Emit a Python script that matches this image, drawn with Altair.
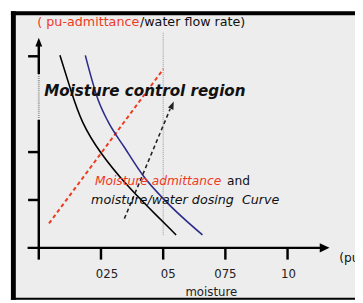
import altair as alt
import pandas as pd

# ---------------- data ----------------
black_x = [0.085, 0.128, 0.171, 0.246, 0.356, 0.434, 0.552]
black_y = [4.02, 3.30, 2.62, 1.98, 1.29, 0.88, 0.27]
blue_x = [0.187, 0.238, 0.277, 0.344, 0.422, 0.513, 0.658]
blue_y = [4.02, 3.10, 2.65, 2.10, 1.49, 0.96, 0.27]
red_x = [0.041, 0.501]
red_y = [0.51, 3.735]
dose_x = [0.344, 0.528]
dose_y = [0.61, 2.90]
xtick_values = [0.25, 0.5, 0.75, 1.0]
xtick_labels = ["025", "05", "075", "10"]
ytick_values = [1, 2, 4]

# ---------------- layout ----------------
W, H = 355, 295
X0PX, XK = 31.5, 254.5   # plot pixel of x=0, pixels per unit
Y0PX, YK = 242.0, 49.0   # plot pixel of y=0, pixels per unit
XMIN, XMAX = -X0PX / XK, (W - X0PX) / XK
YMIN, YMAX = (Y0PX - H) / YK, Y0PX / YK
FONT = "DejaVu Sans"
RED = "#ee3a1e"
BLUE = "#2c2c8c"
GRAY = "#999999"

xs = alt.Scale(domain=[XMIN, XMAX], nice=False, zero=False)
ys = alt.Scale(domain=[YMIN, YMAX], nice=False, zero=False)
X = lambda f="x": alt.X(f"{f}:Q", scale=xs, axis=None)
Y = lambda f="y": alt.Y(f"{f}:Q", scale=ys, axis=None)

one = alt.Data(values=[{}])

# frame
bg = alt.Chart(one).mark_rect(color="#ededed").encode(
    x=alt.value(3), x2=alt.value(W), y=alt.value(0), y2=alt.value(H))
left_border = alt.Chart(one).mark_rule(color="black", strokeWidth=5).encode(
    x=alt.value(5.5), y=alt.value(0), y2=alt.value(H))
top_border = alt.Chart(one).mark_rule(color="black", strokeWidth=4).encode(
    x=alt.value(3), x2=alt.value(W), y=alt.value(2))
bottom_border = alt.Chart(one).mark_rule(color="black", strokeWidth=2).encode(
    x=alt.value(3), x2=alt.value(W), y=alt.value(294))

def seg_df(rows):
    return pd.DataFrame(rows, columns=["x", "y", "x2", "y2"])

axis_black = alt.Chart(seg_df([
    [0, -0.245, 0, 2.67],
    [0, 3.63, 0, 4.22],
    [-0.045, 0, 1.14, 0],
])).mark_rule(color="black", strokeWidth=2.5).encode(
    x=X(), y=Y(), x2="x2:Q", y2="y2:Q")

axis_gray = alt.Chart(seg_df([[0, 2.67, 0, 3.63]])).mark_rule(
    color=GRAY, strokeWidth=2, strokeDash=[1, 1]).encode(
    x=X(), y=Y(), x2="x2:Q", y2="y2:Q")

xt = pd.DataFrame({"x": xtick_values, "label": xtick_labels,
                   "nudge": [0.024, 0.02, 0.0, 0.004]})
xticks = alt.Chart(xt).transform_calculate(y="0", y2="-0.245").mark_rule(
    color="black", strokeWidth=2.5).encode(x=X(), y=Y(), y2="y2:Q")
xlabels = alt.Chart(xt).transform_calculate(
    xl="datum.x + datum.nudge", yl="-0.55").mark_text(
    font=FONT, fontSize=12, color="#222", baseline="middle").encode(
    x=X("xl"), y=Y("yl"), text="label:N")

yt = pd.DataFrame({"y": ytick_values})
yticks = alt.Chart(yt).transform_calculate(x="-0.043", x2="0").mark_rule(
    color="black", strokeWidth=2.5).encode(x=X(), x2="x2:Q", y=Y())

arrows = pd.DataFrame({"x": [0, 1.149], "y": [4.296, 0],
                       "shape": ["up", "right"]})
y_arrow = alt.Chart(arrows[arrows["shape"] == "up"]).mark_point(
    shape="M0,-1L0.78,1L-0.78,1Z", size=81, filled=True, color="black",
    opacity=1).encode(x=X(), y=Y())
x_arrow = alt.Chart(arrows[arrows["shape"] == "right"]).mark_point(
    shape="M1,0L-1,-0.95L-1,0.95Z", size=100, filled=True, color="black",
    opacity=1).encode(x=X(), y=Y())

# vertical dotted line at 0.5
vline = alt.Chart(seg_df([[0.5, 0.265, 0.5, 4.49]])).mark_rule(
    color=GRAY, strokeWidth=1, strokeDash=[1, 1]).encode(
    x=X(), y=Y(), y2="y2:Q")

black_curve = alt.Chart(pd.DataFrame({"x": black_x, "y": black_y})).mark_line(
    color="black", strokeWidth=1.6, interpolate="basis").encode(
    x=X(), y=Y(), order="x:Q")
blue_curve = alt.Chart(pd.DataFrame({"x": blue_x, "y": blue_y})).mark_line(
    color=BLUE, strokeWidth=1.6, interpolate="monotone").encode(
    x=X(), y=Y(), order="x:Q")
red_line = alt.Chart(pd.DataFrame({"x": red_x, "y": red_y})).mark_line(
    color=RED, strokeWidth=2, strokeDash=[4, 3]).encode(x=X(), y=Y())
dose_line = alt.Chart(pd.DataFrame({"x": dose_x, "y": dose_y})).mark_line(
    color="#222", strokeWidth=1.6, strokeDash=[4, 3]).encode(x=X(), y=Y())
dose_head = alt.Chart(pd.DataFrame({"x": [0.5364], "y": [2.98]})).mark_point(
    shape="M0,-1L0.75,1L-0.75,1Z", size=64, filled=True, color="#222",
    opacity=1, angle=23).encode(x=X(), y=Y())

NB = "\u00a0"
texts = pd.DataFrame([
    {"x": -0.006, "y": 4.71, "t": "( pu-admittance", "c": "red", "s": 13, "st": "normal"},
    {"x": 0.4067, "y": 4.71, "t": "/water flow rate)", "c": "black", "s": 13, "st": "normal"},
    {"x": 0.2259, "y": 1.388, "t": "Moisture admittance", "c": "red", "s": 12.5, "st": "italic"},
    {"x": 0.7564, "y": 1.388, "t": "and", "c": "black", "s": 12.5, "st": "normal"},
    {"x": 0.2102, "y": 1.0, "t": "moisture/water dosing" + NB + NB + "Curve", "c": "black", "s": 13, "st": "italic"},
    {"x": 1.208, "y": -0.204, "t": "(pu", "c": "black", "s": 12.5, "st": "normal"},
])

def text_layer(row):
    return alt.Chart(pd.DataFrame([row])).mark_text(
        font=FONT, fontSize=row["s"], align="left", baseline="middle",
        color=RED if row["c"] == "red" else "#111",
        fontStyle=row["st"]).encode(
        x=X(), y=Y(), text="t:N")

text_layers = [text_layer(r) for r in texts.to_dict("records")]

region = alt.Chart(pd.DataFrame({"x": [0.0216], "y": [3.265],
                                 "t": ["Moisture control region"]})).mark_text(
    font=FONT, fontSize=15.5, fontWeight="bold", fontStyle="italic",
    align="left", baseline="middle", color="#111").encode(
    x=X(), y=Y(), text="t:N")

xtitle = alt.Chart(pd.DataFrame({"x": [0.6935], "y": [-0.918],
                                 "t": ["moisture"]})).mark_text(
    font=FONT, fontSize=12, align="center", baseline="middle",
    color="#222").encode(x=X(), y=Y(), text="t:N")

chart = alt.layer(
    bg, left_border, top_border, bottom_border,
    vline, axis_gray, axis_black, xticks, yticks, y_arrow, x_arrow,
    red_line, black_curve, blue_curve, dose_line, dose_head,
    xlabels, xtitle, region, *text_layers,
).properties(
    width=W, height=H, padding=0,
    autosize=alt.AutoSizeParams(type="none"),
    background="white",
).configure_view(strokeWidth=0)

chart.save("out.html", embed_options={"renderer": "svg", "actions": False})
